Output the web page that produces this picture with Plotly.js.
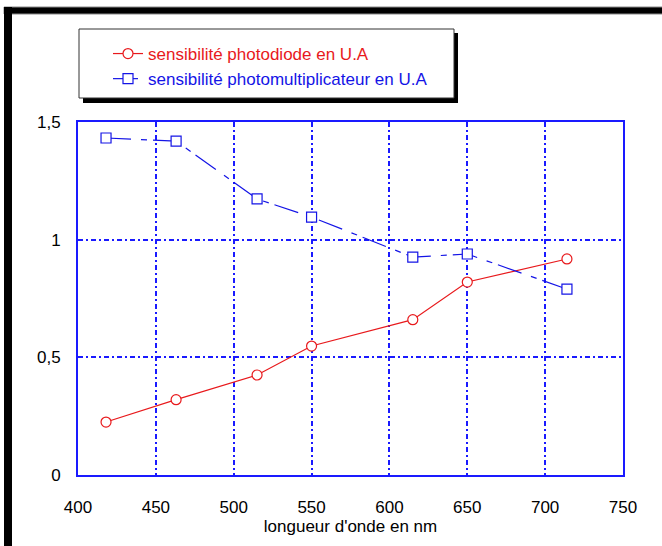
<!DOCTYPE html>
<html>
<head>
<meta charset="utf-8">
<script src="https://cdn.plot.ly/plotly-3.0.1.min.js"></script>
<style>html,body{margin:0;padding:0;background:#fff;}#chart{width:662px;height:546px;}</style>
</head>
<body>
<div id="chart"></div>
<script>
var wavelength = [418, 463, 515, 550, 615, 650, 714];
var photodiode = [0.225, 0.32, 0.425, 0.548, 0.66, 0.82, 0.918];
var photomultiplicateur = [1.432, 1.419, 1.173, 1.096, 0.926, 0.939, 0.79];
var seriesNames = ["sensibilité photodiode en U.A", "sensibilité photomultiplicateur en U.A"];
var xTitle = "longueur d'onde en nm";

var FONT = "'Liberation Sans', Arial, sans-serif";
var RED = "#e8191c";
var BLUE = "#1414e6";
var GRID = "#1a1aff";

function colored(txt, c) { return '<span style="color:' + c + '">' + txt + '</span>'; }

var traces = [
  {
    x: wavelength, y: photodiode, name: colored(seriesNames[0], RED), type: "scatter", mode: "lines+markers",
    line: {color: RED, width: 1.2},
    marker: {symbol: "circle", size: 10, color: "white", line: {color: RED, width: 1.2}}
  },
  {
    x: wavelength, y: photomultiplicateur, name: colored(seriesNames[1], BLUE), type: "scatter", mode: "lines+markers",
    line: {color: BLUE, width: 1.2, dash: "25px,10px,6px,6px"},
    marker: {symbol: "square", size: 10, color: "white", line: {color: BLUE, width: 1.2}}
  }
];

function pxShape(x0, x1, y0, y1, fill, lineColor, lw) {
  return {type: "rect", xref: "paper", yref: "paper", xsizemode: "pixel", ysizemode: "pixel",
    xanchor: 0, yanchor: 0, x0: x0, x1: x1, y0: y0, y1: y1, layer: "above",
    fillcolor: fill, line: {color: lineColor, width: lw}};
}

var layout = {
  width: 662, height: 546,
  margin: {l: 78, r: 39, t: 122, b: 71, pad: 0},
  paper_bgcolor: "white", plot_bgcolor: "white",
  separators: ", ",
  font: {family: FONT, size: 17, color: "black"},
  showlegend: true,
  legend: {
    x: (108 - 78) / 545, y: (475 - 36) / 353, xanchor: "left", yanchor: "top",
    bgcolor: "rgba(0,0,0,0)", borderwidth: 0,
    font: {family: FONT, size: 17}, tracegroupgap: 0
  },
  xaxis: {
    range: [400, 750], dtick: 50, tick0: 400,
    showline: true, linecolor: GRID, linewidth: 2, mirror: true,
    showgrid: true, gridcolor: GRID, gridwidth: 2, griddash: "5px,3px,2px,3px",
    zeroline: false, ticks: "", ticklabelstandoff: 16,
    tickfont: {family: FONT, size: 17, color: "black"},
    title: {text: xTitle, font: {family: FONT, size: 17, color: "black"}, standoff: 0}
  },
  yaxis: {
    range: [0, 1.5], dtick: 0.5, tick0: 0,
    showline: true, linecolor: GRID, linewidth: 2, mirror: true,
    showgrid: true, gridcolor: GRID, gridwidth: 2, griddash: "5px,3px,2px,3px",
    zeroline: false, ticks: "", ticklabelstandoff: 12,
    tickfont: {family: FONT, size: 17, color: "black"}
  },
  shapes: [
    pxShape(-74, 590, 461, 468, "black", "#888", 1),
    pxShape(-74, -66, -80, 468, "black", "black", 0),
    pxShape(5, 380, 372, 442, "black", "black", 0),
    pxShape(1, 376, 377, 446, "white", "#333", 1)
  ]
};

Plotly.newPlot("chart", traces, layout, {displayModeBar: false, staticPlot: true});
</script>
</body>
</html>
